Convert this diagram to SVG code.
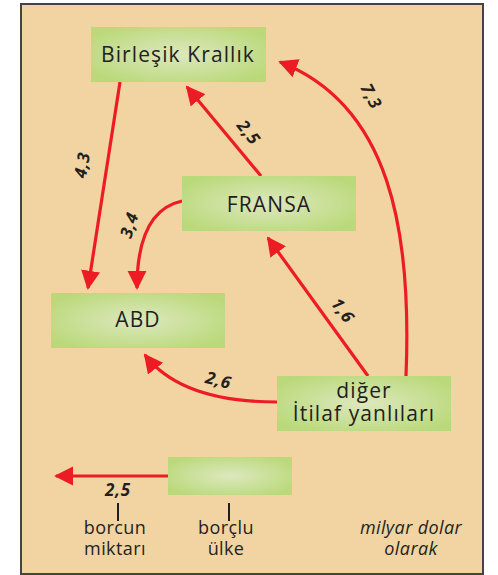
<svg xmlns="http://www.w3.org/2000/svg" width="498" height="575" viewBox="0 0 498 575">
<defs>
<radialGradient id="g" cx="50%" cy="50%" r="60%">
<stop offset="0" stop-color="#DDE8BE"/>
<stop offset="1" stop-color="#BAD97A"/>
</radialGradient>
<marker id="ah" viewBox="0 0 10 10" refX="9" refY="5" markerWidth="6" markerHeight="6" markerUnits="strokeWidth" orient="auto">
<path d="M0,0 L10,5 L0,10 z" fill="#ED1C24"/>
</marker>
<style>
.box{fill:url(#g)}
.t{font-family:"Open Sans","Noto Sans",sans-serif;font-size:21px;letter-spacing:1.1px;fill:#231F20;text-anchor:middle}
.c{fill:none;stroke:#ED1C24;stroke-width:3.2}
.n{font-family:"Open Sans","Noto Sans",sans-serif;font-size:17px;letter-spacing:0.8px;font-weight:bold;font-style:italic;fill:#231F20;text-anchor:middle}
.l{font-family:"Open Sans","Noto Sans",sans-serif;font-size:18px;letter-spacing:0.4px;fill:#231F20;text-anchor:middle}
.tick{stroke:#231F20;stroke-width:2}
</style>
</defs>
<rect x="0" y="0" width="498" height="575" fill="#fff"/>
<rect x="21" y="4" width="462" height="570" fill="#F1D4A2" stroke="#444" stroke-width="2"/>
<g id="connectors">
<path class="c" marker-end="url(#ah)" d="M120,82 L88,288"/>
<path class="c" marker-end="url(#ah)" d="M261,176 L187,87"/>
<path class="c" marker-end="url(#ah)" d="M182,201 C150,208 137,240 137,288"/>
<path class="c" marker-end="url(#ah)" d="M368,376 L268,238"/>
<path class="c" marker-end="url(#ah)" d="M277,402 C220,402 172,390 145,355"/>
<path class="c" marker-end="url(#ah)" d="M406,376 C412,230 390,105 280,62"/>
<path class="c" marker-end="url(#ah)" d="M168,476 L56,476"/>
</g>
<g id="labels">
<text class="n" transform="translate(88,166) rotate(-80)">4,3</text>
<text class="n" transform="translate(244,136) rotate(52)">2,5</text>
<text class="n" transform="translate(135,227) rotate(-72)">3,4</text>
<text class="n" transform="translate(338,314) rotate(54)">1,6</text>
<text class="n" transform="translate(217,386) rotate(14)">2,6</text>
<text class="n" transform="translate(366,99) rotate(62)">7,3</text>
<text class="n" x="118" y="496">2,5</text>
</g>
<g id="node-bk">
<rect class="box" x="91" y="27" width="175" height="55"/>
<text class="t" x="178" y="62">Birleşik Krallık</text>
</g>
<g id="node-fransa">
<rect class="box" x="182" y="176" width="174" height="55"/>
<text class="t" x="269" y="212">FRANSA</text>
</g>
<g id="node-abd">
<rect class="box" x="51" y="293" width="174" height="55"/>
<text class="t" x="138" y="327">ABD</text>
</g>
<g id="node-diger">
<rect class="box" x="277" y="376" width="174" height="55"/>
<text class="t" x="364" y="398">diğer</text>
<text class="t" x="364" y="421">İtilaf yanlıları</text>
</g>
<g id="legend">
<rect class="box" x="168" y="457" width="124" height="38"/>
<line class="tick" x1="118" y1="503" x2="118" y2="521"/>
<line class="tick" x1="229" y1="503" x2="229" y2="521"/>
<text class="l" x="115" y="534">borcun</text>
<text class="l" x="115" y="555">miktarı</text>
<text class="l" x="226" y="534">borçlu</text>
<text class="l" x="226" y="555">ülke</text>
<text class="l" x="411" y="534" font-style="italic">milyar dolar</text>
<text class="l" x="411" y="555" font-style="italic">olarak</text>
</g>
</svg>
